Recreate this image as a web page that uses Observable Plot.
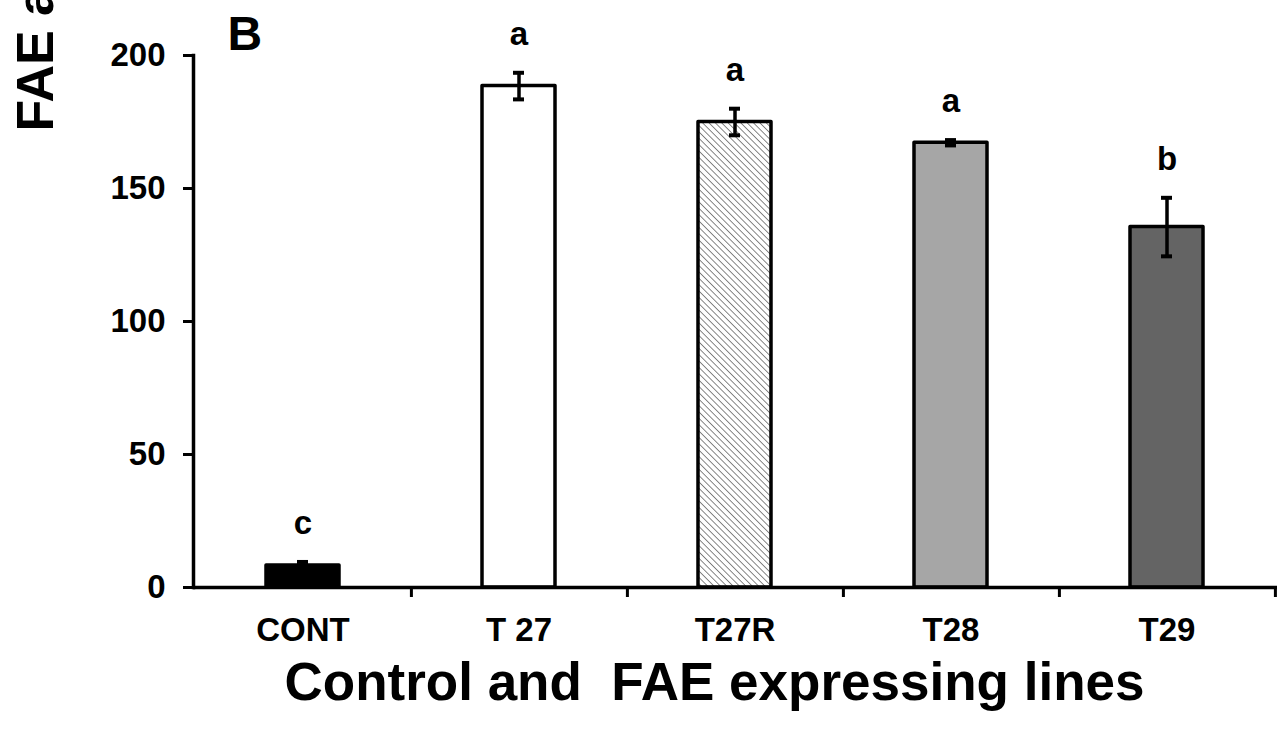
<!DOCTYPE html>
<html>
<head>
<meta charset="utf-8">
<script src="https://cdn.jsdelivr.net/npm/d3@7"></script>
<script src="https://cdn.jsdelivr.net/npm/@observablehq/plot@0.6"></script>
<style>
  html, body { margin: 0; padding: 0; background: #fff; }
</style>
</head>
<body>
<div id="chart"></div>
<script>
// ---- data ----
const categories = ["CONT", "T 27", "T27R", "T28", "T29"];
const values = [8.3, 188.5, 175, 167.2, 135.5];
const errors = [1.3, 5, 5, 1, 11];
const letters = ["c", "a", "a", "a", "b"];
const yTicks = [0, 50, 100, 150, 200];
const panelLabel = "B";
const xTitle = "Control and  FAE expressing lines";
const yTitle = "FAE activity";

// ---- styles ----
const fills = {"CONT": "#000000", "T 27": "#ffffff", "T27R": "url(#hatch)", "T28": "#a6a6a6", "T29": "#646464"};

const data = categories.map((c, i) => ({cat: c, value: values[i], err: errors[i], letter: letters[i]}));

const W = 1282, H = 733;
const mL = 193, mR = 5, mT = 55, mB = 146;
const step = (W - mL - mR) / categories.length;
const font = "'Liberation Sans', Arial, Helvetica, sans-serif";

const svg = Plot.plot({
  width: W,
  height: H,
  marginLeft: mL,
  marginRight: mR,
  marginTop: mT,
  marginBottom: mB,
  style: {fontFamily: font, fontWeight: "bold", color: "#000", background: "#fff", overflow: "visible", whiteSpace: "pre"},
  x: {domain: categories, paddingInner: 0.66, paddingOuter: 0.33, axis: null},
  y: {domain: [0, 200], axis: null},
  color: {type: "identity"},
  marks: [
    Plot.barY(data, {x: "cat", y: "value", fill: d => fills[d.cat], stroke: "#000", strokeWidth: 3.5, strokeLinejoin: "round"}),
    Plot.ruleX(data, {x: "cat", y1: d => d.value - d.err, y2: d => d.value + d.err, stroke: "#000", strokeWidth: 3.5}),
    Plot.tickY(data, {x: "cat", y: d => d.value + d.err, stroke: "#000", strokeWidth: 4, insetLeft: 31, insetRight: 31}),
    Plot.tickY(data, {x: "cat", y: d => d.value - d.err, stroke: "#000", strokeWidth: 4, insetLeft: 31, insetRight: 31}),
    Plot.text(data, {x: "cat", y: d => d.value + d.err, text: "letter", fontSize: 33, fontWeight: "bold", lineAnchor: "bottom", dy: -28, fill: "#000"}),
    // axes
    Plot.axisY({ticks: yTicks, tickSize: 10, tickPadding: 18, fontSize: 33, fontWeight: "bold", strokeWidth: 3, label: null, fill: "#000"}),
    Plot.axisX({tickSize: 0, tickPadding: 30, fontSize: 33, fontWeight: "bold", label: null, fill: "#000", lineAnchor: "top"}),
    Plot.axisX({tickSize: 10, tickFormat: () => "", dx: step / 2, strokeWidth: 3, label: null}),
    Plot.frame({anchor: "left", strokeWidth: 3.5, stroke: "#000"}),
    Plot.ruleY([0], {strokeWidth: 3.5, stroke: "#000"}),
    // titles
    Plot.text([xTitle], {frameAnchor: "bottom", dx: -21, dy: 112, fontSize: 53, fontWeight: "bold", fill: "#000", lineAnchor: "bottom"}),
    Plot.text([panelLabel], {frameAnchor: "top-left", dx: 34, dy: -6, fontSize: 48, fontWeight: "bold", fill: "#000", textAnchor: "start", lineAnchor: "bottom"}),
    Plot.text([yTitle], {frameAnchor: "top-left", dx: -141, dy: 76, rotate: -90, fontSize: 52, fontWeight: "bold", fill: "#000", textAnchor: "start", lineAnchor: "bottom"})
  ]
});

// hatch pattern for T27R (lines running top-left to bottom-right)
const defs = d3.select(svg).insert("defs", ":first-child");
const pat = defs.append("pattern")
  .attr("id", "hatch")
  .attr("patternUnits", "userSpaceOnUse")
  .attr("width", 4.5).attr("height", 4.5)
  .attr("patternTransform", "rotate(-45)");
pat.append("rect").attr("width", 4.5).attr("height", 4.5).attr("fill", "#fff");
pat.append("line").attr("x1", 0).attr("y1", 0).attr("x2", 0).attr("y2", 4.5)
  .attr("stroke", "#7a7a7a").attr("stroke-width", 1.8);

document.getElementById("chart").appendChild(svg);
</script>
</body>
</html>
